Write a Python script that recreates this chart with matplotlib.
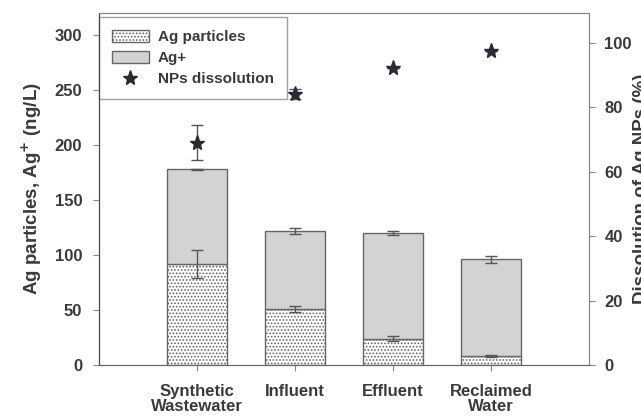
import numpy as np
import matplotlib.pyplot as plt
from matplotlib.lines import Line2D

plt.rcParams['font.family'] = ['Liberation Sans', 'DejaVu Sans']
plt.rcParams['font.weight'] = 'bold'
plt.rcParams['axes.labelweight'] = 'bold'
plt.rcParams['hatch.color'] = '#9a9a9a'
plt.rcParams['hatch.linewidth'] = 0.8

# data
categories = ['Synthetic\nWastewater', 'Influent', 'Effluent', 'Reclaimed\nWater']
ag_particles = [92, 51, 24, 8]
ag_particles_err = [13, 3, 2, 0.7]
ag_ion = [86, 71, 96, 88]           # stacked on top of particles
total_err = [0.5, 2.5, 1.5, 3]
dissolution = [69, 84, 92, 97.5]
dissolution_err = [5.5, 1.5, 0, 0]

text_c = '#3a3a3a'
x = np.arange(1, len(categories) + 1)
w = 0.61

fig = plt.figure(figsize=(6.41, 4.17), dpi=100)
ax = fig.add_axes([99 / 641, 52 / 417, 490 / 641, 352 / 417])

ax.bar(x, ag_particles, w, color='white', edgecolor='#666666', hatch='.....',
       linewidth=1.0, label='Ag particles', zorder=2)
ax.bar(x, ag_ion, w, bottom=ag_particles, color='#d3d3d3', edgecolor='#666666',
       linewidth=1.0, label='Ag+', zorder=2)
ax.errorbar(x, ag_particles, yerr=ag_particles_err, fmt='none', ecolor='#555555',
            elinewidth=1, capsize=4, zorder=3)
totals = np.array(ag_particles) + np.array(ag_ion)
ax.errorbar(x, totals, yerr=total_err, fmt='none', ecolor='#555555',
            elinewidth=1, capsize=4, zorder=3)

ax.set_xlim(0, 5)
ax.set_ylim(0, 320)
ax.set_yticks([0, 50, 100, 150, 200, 250, 300])
ax.set_xticks(x)
ax.set_xticklabels(categories, fontsize=12, color=text_c, linespacing=1.0)
ax.set_ylabel('Ag particles, Ag$^{\\mathbf{+}}$ (ng/L)', fontsize=13.5,
              color=text_c, labelpad=8)
ax.tick_params(axis='y', labelsize=12, labelcolor=text_c, color='#888888',
               length=4, direction='out', pad=8)
ax.tick_params(axis='x', color='#888888', length=4, direction='out', pad=10)

ax2 = ax.twinx()
ax2.errorbar(x, dissolution, yerr=dissolution_err, fmt='*', color='#2a2a33',
             markersize=11, ecolor='#555555', elinewidth=1, capsize=4, zorder=4)
ax2.set_ylim(0, 109.2)
ax2.set_yticks([0, 20, 40, 60, 80, 100])
ax2.tick_params(axis='y', labelsize=12, labelcolor=text_c, color='#888888',
                length=4, direction='out', pad=7)
ax2.set_ylabel('Dissolution of Ag NPs (%)', fontsize=13.5, color=text_c,
               rotation=90, labelpad=1)

for a in (ax, ax2):
    a.spines['left'].set_color('#444444')
    a.spines['bottom'].set_color('#666666')
    a.spines['top'].set_color('#888888')
    a.spines['right'].set_color('#888888')

h1, l1 = ax.get_legend_handles_labels()
star = Line2D([], [], marker='*', linestyle='none', color='#2a2a33', markersize=11)
leg = ax.legend(h1 + [star], l1 + ['NPs dissolution'], loc='upper left',
                bbox_to_anchor=(0, 0.988), fontsize=11, frameon=True,
                fancybox=False, edgecolor='#888888', borderaxespad=0,
                handlelength=2.4, handleheight=0.8, handletextpad=0.6,
                labelspacing=0.45, borderpad=0.85)
for t in leg.get_texts():
    t.set_color(text_c)
leg.set_zorder(5)

fig.savefig('out.png', dpi=100)
